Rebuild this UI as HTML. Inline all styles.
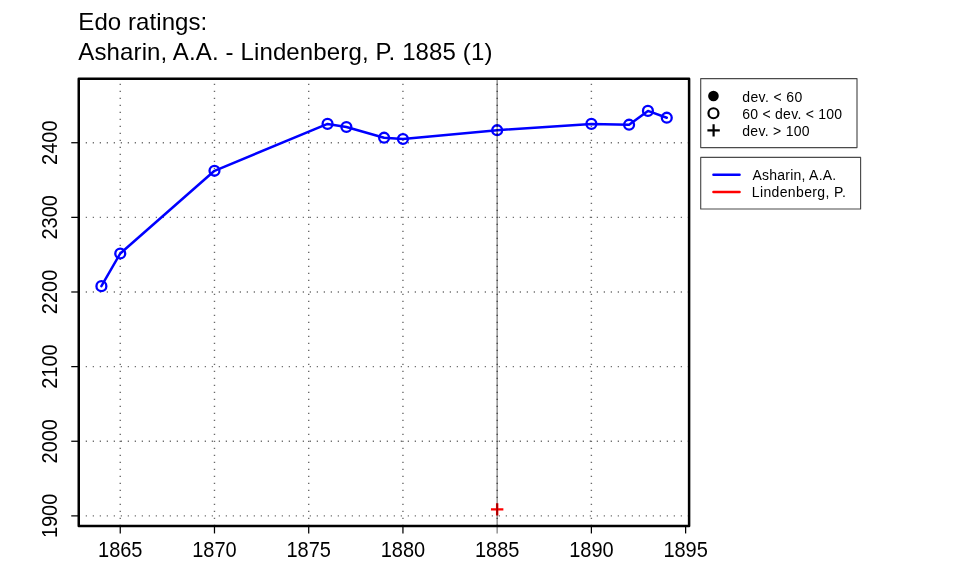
<!DOCTYPE html><html><head><meta charset="utf-8"><style>html,body{margin:0;padding:0;background:#fff;}svg{display:block;will-change:transform;}text{font-family:"Liberation Sans",Arial,sans-serif;fill:#000;}</style></head><body>
<svg width="960" height="576" viewBox="0 0 960 576">
<rect width="960" height="576" fill="#fff"/>
<line x1="120.25" y1="525.95" x2="120.25" y2="78.65" stroke="#6a6a6a" stroke-width="1.4" stroke-dasharray="1.2 5.80" stroke-dashoffset="0.0"/>
<line x1="214.48" y1="525.95" x2="214.48" y2="78.65" stroke="#6a6a6a" stroke-width="1.4" stroke-dasharray="1.2 5.80" stroke-dashoffset="0.0"/>
<line x1="308.71" y1="525.95" x2="308.71" y2="78.65" stroke="#6a6a6a" stroke-width="1.4" stroke-dasharray="1.2 5.80" stroke-dashoffset="0.0"/>
<line x1="402.94" y1="525.95" x2="402.94" y2="78.65" stroke="#6a6a6a" stroke-width="1.4" stroke-dasharray="1.2 5.80" stroke-dashoffset="0.0"/>
<line x1="497.16" y1="525.95" x2="497.16" y2="78.65" stroke="#6a6a6a" stroke-width="1.4" stroke-dasharray="1.2 5.80" stroke-dashoffset="0.0"/>
<line x1="591.39" y1="525.95" x2="591.39" y2="78.65" stroke="#6a6a6a" stroke-width="1.4" stroke-dasharray="1.2 5.80" stroke-dashoffset="0.0"/>
<line x1="78.75" y1="515.88" x2="689.10" y2="515.88" stroke="#6a6a6a" stroke-width="1.4" stroke-dasharray="1.2 5.80" stroke-dashoffset="0.0"/>
<line x1="78.75" y1="441.25" x2="689.10" y2="441.25" stroke="#6a6a6a" stroke-width="1.4" stroke-dasharray="1.2 5.80" stroke-dashoffset="0.0"/>
<line x1="78.75" y1="366.62" x2="689.10" y2="366.62" stroke="#6a6a6a" stroke-width="1.4" stroke-dasharray="1.2 5.80" stroke-dashoffset="0.0"/>
<line x1="78.75" y1="291.99" x2="689.10" y2="291.99" stroke="#6a6a6a" stroke-width="1.4" stroke-dasharray="1.2 5.80" stroke-dashoffset="0.0"/>
<line x1="78.75" y1="217.36" x2="689.10" y2="217.36" stroke="#6a6a6a" stroke-width="1.4" stroke-dasharray="1.2 5.80" stroke-dashoffset="0.0"/>
<line x1="78.75" y1="142.73" x2="689.10" y2="142.73" stroke="#6a6a6a" stroke-width="1.4" stroke-dasharray="1.2 5.80" stroke-dashoffset="0.0"/>
<path d="M490.96 509.4H503.36M497.16 503.2V515.6" stroke="#ff0000" stroke-width="2.4" fill="none"/>
<path d="M101.40 286.15 L120.25 253.50 L214.48 170.80 L327.55 123.90 L346.40 127.00 L384.09 137.70 L402.94 139.00 L497.16 130.20 L591.39 123.90 L629.08 124.70 L647.93 110.90 L666.78 117.70" stroke="#0000ff" stroke-width="2.5" fill="none" stroke-linejoin="round" stroke-linecap="round"/>
<circle cx="101.40" cy="286.15" r="4.95" stroke="#0000ff" stroke-width="2.3" fill="none"/>
<circle cx="120.25" cy="253.50" r="4.95" stroke="#0000ff" stroke-width="2.3" fill="none"/>
<circle cx="214.48" cy="170.80" r="4.95" stroke="#0000ff" stroke-width="2.3" fill="none"/>
<circle cx="327.55" cy="123.90" r="4.95" stroke="#0000ff" stroke-width="2.3" fill="none"/>
<circle cx="346.40" cy="127.00" r="4.95" stroke="#0000ff" stroke-width="2.3" fill="none"/>
<circle cx="384.09" cy="137.70" r="4.95" stroke="#0000ff" stroke-width="2.3" fill="none"/>
<circle cx="402.94" cy="139.00" r="4.95" stroke="#0000ff" stroke-width="2.3" fill="none"/>
<circle cx="497.16" cy="130.20" r="4.95" stroke="#0000ff" stroke-width="2.3" fill="none"/>
<circle cx="591.39" cy="123.90" r="4.95" stroke="#0000ff" stroke-width="2.3" fill="none"/>
<circle cx="629.08" cy="124.70" r="4.95" stroke="#0000ff" stroke-width="2.3" fill="none"/>
<circle cx="647.93" cy="110.90" r="4.95" stroke="#0000ff" stroke-width="2.3" fill="none"/>
<circle cx="666.78" cy="117.70" r="4.95" stroke="#0000ff" stroke-width="2.3" fill="none"/>
<line x1="497.16" y1="78.65" x2="497.16" y2="533.5" stroke="#000" stroke-opacity="0.45" stroke-width="1.4"/>
<rect x="78.75" y="78.65" width="610.35" height="447.30" stroke="#000" stroke-width="2.5" stroke-linejoin="round" fill="none"/>
<line x1="120.25" y1="525.95" x2="120.25" y2="533.45" stroke="#000" stroke-width="1.25"/>
<text transform="translate(120.25 557.0) scale(1 1.07)" font-size="20" text-anchor="middle">1865</text>
<line x1="214.48" y1="525.95" x2="214.48" y2="533.45" stroke="#000" stroke-width="1.25"/>
<text transform="translate(214.48 557.0) scale(1 1.07)" font-size="20" text-anchor="middle">1870</text>
<line x1="308.71" y1="525.95" x2="308.71" y2="533.45" stroke="#000" stroke-width="1.25"/>
<text transform="translate(308.71 557.0) scale(1 1.07)" font-size="20" text-anchor="middle">1875</text>
<line x1="402.94" y1="525.95" x2="402.94" y2="533.45" stroke="#000" stroke-width="1.25"/>
<text transform="translate(402.94 557.0) scale(1 1.07)" font-size="20" text-anchor="middle">1880</text>
<text transform="translate(497.16 557.0) scale(1 1.07)" font-size="20" text-anchor="middle">1885</text>
<line x1="591.39" y1="525.95" x2="591.39" y2="533.45" stroke="#000" stroke-width="1.25"/>
<text transform="translate(591.39 557.0) scale(1 1.07)" font-size="20" text-anchor="middle">1890</text>
<line x1="685.62" y1="525.95" x2="685.62" y2="533.45" stroke="#000" stroke-width="1.25"/>
<text transform="translate(685.62 557.0) scale(1 1.07)" font-size="20" text-anchor="middle">1895</text>
<line x1="78.75" y1="515.88" x2="71.25" y2="515.88" stroke="#000" stroke-width="1.25"/>
<text transform="translate(56.8 515.88) rotate(-90) scale(1 1.07)" font-size="20" text-anchor="middle">1900</text>
<line x1="78.75" y1="441.25" x2="71.25" y2="441.25" stroke="#000" stroke-width="1.25"/>
<text transform="translate(56.8 441.25) rotate(-90) scale(1 1.07)" font-size="20" text-anchor="middle">2000</text>
<line x1="78.75" y1="366.62" x2="71.25" y2="366.62" stroke="#000" stroke-width="1.25"/>
<text transform="translate(56.8 366.62) rotate(-90) scale(1 1.07)" font-size="20" text-anchor="middle">2100</text>
<line x1="78.75" y1="291.99" x2="71.25" y2="291.99" stroke="#000" stroke-width="1.25"/>
<text transform="translate(56.8 291.99) rotate(-90) scale(1 1.07)" font-size="20" text-anchor="middle">2200</text>
<line x1="78.75" y1="217.36" x2="71.25" y2="217.36" stroke="#000" stroke-width="1.25"/>
<text transform="translate(56.8 217.36) rotate(-90) scale(1 1.07)" font-size="20" text-anchor="middle">2300</text>
<line x1="78.75" y1="142.73" x2="71.25" y2="142.73" stroke="#000" stroke-width="1.25"/>
<text transform="translate(56.8 142.73) rotate(-90) scale(1 1.07)" font-size="20" text-anchor="middle">2400</text>
<text x="78.3" y="29.9" font-size="24" textLength="128.93" lengthAdjust="spacing">Edo ratings:</text>
<text x="78.3" y="60.4" font-size="24" textLength="414.16" lengthAdjust="spacing">Asharin, A.A. - Lindenberg, P. 1885 (1)</text>
<rect x="700.7" y="78.55" width="156.3" height="69.05" stroke="#4a4a4a" stroke-width="1.15" stroke-linejoin="round" fill="none"/>
<circle cx="713.45" cy="95.95" r="5.3" fill="#000"/>
<circle cx="713.45" cy="113.25" r="5.0" stroke="#000" stroke-width="2.2" fill="none"/>
<path d="M707.4 130.4H719.8M713.6 124.2V136.6" stroke="#000" stroke-width="2.2"/>
<text x="742.2" y="101.6" font-size="14" textLength="60.05" lengthAdjust="spacing">dev. &lt; 60</text>
<text x="742.2" y="118.6" font-size="14" textLength="99.97" lengthAdjust="spacing">60 &lt; dev. &lt; 100</text>
<text x="742.2" y="135.5" font-size="14" textLength="67.45" lengthAdjust="spacing">dev. &gt; 100</text>
<rect x="700.7" y="157.4" width="159.9" height="51.6" stroke="#4a4a4a" stroke-width="1.15" stroke-linejoin="round" fill="none"/>
<line x1="713.4" y1="174.8" x2="739.6" y2="174.8" stroke="#0000ff" stroke-width="2.4" stroke-linecap="round"/>
<line x1="713.4" y1="192" x2="739.6" y2="192" stroke="#ff0000" stroke-width="2.4" stroke-linecap="round"/>
<text x="752.4" y="179.8" font-size="14" textLength="83.84" lengthAdjust="spacing">Asharin, A.A.</text>
<text x="751.8" y="196.9" font-size="14" textLength="93.97" lengthAdjust="spacing">Lindenberg, P.</text>
</svg></body></html>
